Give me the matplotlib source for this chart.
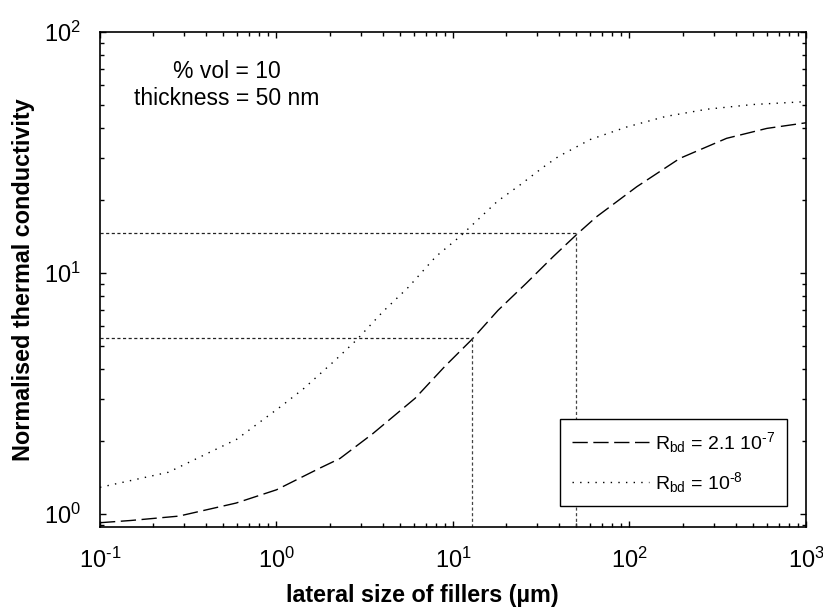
import math

import matplotlib

matplotlib.use("Agg")
import matplotlib.pyplot as plt
from matplotlib.ticker import FuncFormatter

plt.rcParams["font.family"] = ["Liberation Sans", "DejaVu Sans"]
plt.rcParams["mathtext.fontset"] = "custom"
plt.rcParams["mathtext.rm"] = "Liberation Sans"
plt.rcParams["mathtext.it"] = "Liberation Sans"
plt.rcParams["mathtext.bf"] = "Liberation Sans:bold"

# R_bd = 2.1e-7 (dashed)
size_a = [0.1, 0.15, 0.28, 0.59, 1.0, 1.76, 2.29, 3.5, 6.1, 9.0, 12.8, 18.0,
          26.0, 37.0, 51.0, 65.0, 110.0, 193.0, 355.0, 600.0, 1000.0]
cond_a = [0.92, 0.94, 0.98, 1.11, 1.26, 1.55, 1.70, 2.15, 3.02, 4.1, 5.3, 7.0,
          9.06, 11.7, 14.6, 17.1, 22.8, 29.9, 36.2, 39.8, 42.0]

# R_bd = 1e-8 (dotted)
size_b = [0.1, 0.244, 0.594, 1.07, 1.43, 2.14, 2.84, 4.0, 5.58, 8.0, 11.0,
          17.8, 24.0, 32.5, 39.5, 60.0, 96.0, 160.0, 274.0, 500.0, 1000.0]
cond_b = [1.29, 1.49, 2.04, 2.81, 3.32, 4.33, 5.27, 6.9, 8.72, 11.7, 14.2,
          19.8, 23.2, 27.5, 30.4, 35.8, 40.3, 44.6, 47.8, 50.0, 51.4]

# guide lines: (lateral size, conductivity)
guide_x = [12.8, 50.0]
guide_y = [5.35, 14.6]

x_lim = (0.1, 1000)
y_lim = (0.883, 100)


def _pow10(val, pos):
    exp = int(round(math.log10(val)))
    sign = r"\text{-}" if exp < 0 else ""
    return r"$\mathregular{10^{%s%d}}$" % (sign, abs(exp))


fig = plt.figure(figsize=(8.23, 6.08), dpi=100)
ax = fig.add_axes([0.1215, 0.1332, 0.8578, 0.8142])

ax.plot(size_a, cond_a, color="black", lw=1.0, linestyle=(0, (11, 4)),
        label=r"$\mathregular{R_{bd}}$ = 2.1 $\mathregular{10^{\text{-}7}}$")
ax.plot(size_b, cond_b, color="black", lw=1.0, linestyle=(0, (1, 4.5)),
        label=r"$\mathregular{R_{bd}}$ = $\mathregular{10^{\text{-}8}}$")

for gx, gy in zip(guide_x, guide_y):
    ax.plot([x_lim[0], gx], [gy, gy], color="#222222", lw=0.9, linestyle=(0, (2.5, 2)))
    ax.plot([gx, gx], [y_lim[0], gy], color="#444444", lw=0.9, linestyle=(0, (2.5, 2)))

ax.set_xscale("log")
ax.set_yscale("log")
ax.set_xlim(*x_lim)
ax.set_ylim(*y_lim)
ax.xaxis.set_major_formatter(FuncFormatter(_pow10))
ax.yaxis.set_major_formatter(FuncFormatter(_pow10))

for side in ax.spines.values():
    side.set_linewidth(1.2)
ax.tick_params(which="both", direction="in", top=True, right=True, width=1.0)
ax.tick_params(which="major", length=4.5, labelsize=17)
ax.tick_params(which="minor", length=3)
ax.tick_params(axis="x", which="major", pad=15)
ax.tick_params(axis="y", which="major", pad=14)

ax.set_xlabel("lateral size of fillers (µm)", fontsize=16.8, fontweight="bold")
ax.xaxis.set_label_coords(0.457, -0.115)
ax.set_ylabel("Normalised thermal conductivity", fontsize=16.8, fontweight="bold", labelpad=6)

ax.text(0.18, 0.893, "% vol = 10\nthickness = 50 nm", transform=ax.transAxes,
        ha="center", va="center", fontsize=16.5, linespacing=1.2)

leg = ax.legend(loc="lower right", bbox_to_anchor=(0.973, 0.042), borderaxespad=0,
                fontsize=14, fancybox=False, edgecolor="black", framealpha=1,
                handlelength=4.0, handletextpad=0.3, borderpad=0.6, labelspacing=0.75)
leg.get_frame().set_linewidth(1.0)

fig.savefig("out.png", dpi=100)
